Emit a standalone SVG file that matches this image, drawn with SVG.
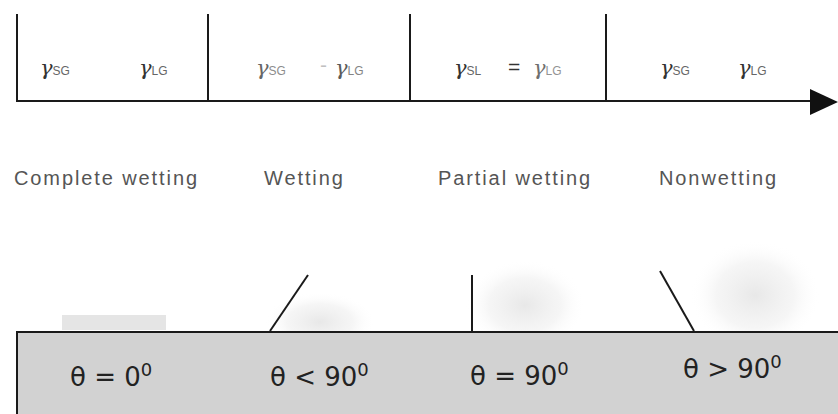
<svg xmlns="http://www.w3.org/2000/svg" width="838" height="414" viewBox="0 0 838 414">
<style>
.ln{stroke:#1a1a1a;stroke-width:2;fill:none}
.g{font-family:"DejaVu Serif","Liberation Serif",serif;font-style:italic;font-size:21px;fill:#333}
.sub{font-family:"Liberation Sans",sans-serif;font-style:normal;font-size:12px;fill:#666}
.eq{font-family:"Liberation Sans",sans-serif;font-size:21px;fill:#333}
.lab{font-family:"Liberation Sans",Arial,sans-serif;font-size:20px;letter-spacing:1.9px;fill:#555}
.th{font-family:"DejaVu Sans","Open Sans",sans-serif;font-size:26px;fill:#222}
.sup{font-size:18px}
</style>
<defs>
<radialGradient id="blob"><stop offset="0" stop-color="#e2e2e2" stop-opacity="0.8"/><stop offset="0.6" stop-color="#ececec" stop-opacity="0.5"/><stop offset="1" stop-color="#ffffff" stop-opacity="0"/></radialGradient>
</defs>
<rect width="838" height="414" fill="#ffffff"/>
<g id="backdrop">
<ellipse cx="320" cy="322" rx="55" ry="30" fill="url(#blob)"/>
<ellipse cx="525" cy="305" rx="60" ry="45" fill="url(#blob)"/>
<ellipse cx="755" cy="295" rx="65" ry="55" fill="url(#blob)"/>
<rect x="62" y="315" width="104" height="15" fill="#d4d4d4" opacity="0.6"/>
</g>
<g id="scale-bar">
<line class="ln" x1="17" y1="14" x2="17" y2="101"/>
<line class="ln" x1="208" y1="14" x2="208" y2="101"/>
<line class="ln" x1="410" y1="14" x2="410" y2="101"/>
<line class="ln" x1="606" y1="14" x2="606" y2="101"/>
</g>
<g id="connectors">
<line class="ln" x1="16" y1="101" x2="812" y2="101"/>
<polygon points="810,89 838,102 810,115" fill="#111"/>
</g>
<g id="cell-complete">
<text class="g" x="40" y="75">γ<tspan class="sub">SG</tspan></text>
<text class="g" x="139" y="75">γ<tspan class="sub">LG</tspan></text>
</g>
<g id="cell-wetting">
<text class="g" x="256" y="75" opacity="0.75">γ<tspan class="sub">SG</tspan></text>
<text class="eq" x="320" y="72" opacity="0.3">-</text>
<text class="g" x="335" y="75" opacity="0.8">γ<tspan class="sub">LG</tspan></text>
</g>
<g id="cell-partial">
<text class="g" x="454" y="75">γ<tspan class="sub">SL</tspan></text>
<text class="eq" x="508" y="74">=</text>
<text class="g" x="533" y="75" opacity="0.7">γ<tspan class="sub">LG</tspan></text>
</g>
<g id="cell-nonwetting">
<text class="g" x="660" y="75">γ<tspan class="sub">SG</tspan></text>
<text class="g" x="738" y="75">γ<tspan class="sub">LG</tspan></text>
</g>
<g id="labels">
<text class="lab" x="14" y="185">Complete wetting</text>
<text class="lab" x="264" y="185">Wetting</text>
<text class="lab" x="438" y="185">Partial wetting</text>
<text class="lab" x="659" y="185">Nonwetting</text>
</g>
<g id="surface">
<rect x="17" y="332" width="830" height="90" fill="#d2d2d2" stroke="#1a1a1a" stroke-width="2"/>
<line class="ln" x1="270" y1="331" x2="308" y2="275"/>
<line class="ln" x1="472" y1="331" x2="472" y2="275"/>
<line class="ln" x1="660" y1="271" x2="694" y2="331" stroke-width="1.5"/>
</g>
<g id="angles">
<text class="th" x="70" y="386">θ = 0<tspan class="sup" dy="-10">0</tspan></text>
<text class="th" x="270" y="386">θ &lt; 90<tspan class="sup" dy="-10">0</tspan></text>
<text class="th" x="470" y="385">θ = 90<tspan class="sup" dy="-10">0</tspan></text>
<text class="th" x="683" y="378">θ &gt; 90<tspan class="sup" dy="-10">0</tspan></text>
</g>
</svg>
